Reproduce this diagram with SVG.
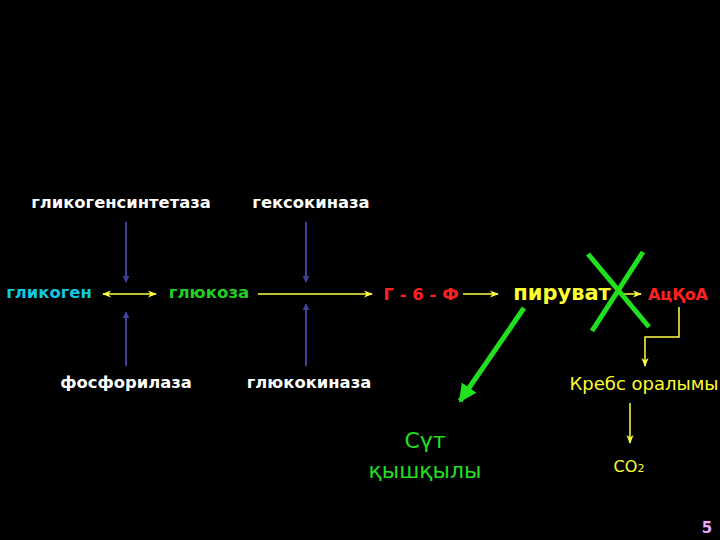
<svg xmlns="http://www.w3.org/2000/svg" width="720" height="540" viewBox="0 0 720 540">
<defs>
<style>
text{font-family:"DejaVu Sans","Liberation Sans",sans-serif;font-weight:bold}
.w{fill:#ffffff;font-size:16.4px}
.blue{stroke:#40409a;stroke-width:2;fill:none}
.yel{stroke:#ffff40;stroke-width:1.5;fill:none}
.grn{stroke:#20e020;stroke-width:5;fill:none;stroke-linecap:butt}
</style>
<marker id="ab" viewBox="0 0 10 10" refX="9" refY="5" markerWidth="7" markerHeight="7" orient="auto-start-reverse" markerUnits="userSpaceOnUse"><path d="M0,0 L10,5 L0,10 Z" fill="#40409a"/></marker>
<marker id="ay" viewBox="0 0 10 10" refX="9" refY="5" markerWidth="9" markerHeight="9" orient="auto-start-reverse" markerUnits="userSpaceOnUse"><path d="M0,1 L10,5 L0,9 L3,5 Z" fill="#ffff40"/></marker>
<marker id="ag" viewBox="0 0 10 10" refX="9" refY="5" markerWidth="18" markerHeight="18" orient="auto" markerUnits="userSpaceOnUse"><path d="M0,0 L10,5 L0,10 Z" fill="#20e020"/></marker>
</defs>
<rect width="720" height="540" fill="#000"/>
<g id="connectors">
<line class="blue" x1="126" y1="222" x2="126" y2="282" marker-end="url(#ab)"/>
<line class="blue" x1="126" y1="366" x2="126" y2="312" marker-end="url(#ab)"/>
<line class="blue" x1="306" y1="222" x2="306" y2="282" marker-end="url(#ab)"/>
<line class="blue" x1="306" y1="366" x2="306" y2="304" marker-end="url(#ab)"/>
<line class="yel" x1="103" y1="294" x2="156" y2="294" marker-start="url(#ay)" marker-end="url(#ay)"/>
<line class="yel" x1="258" y1="294" x2="372" y2="294" marker-end="url(#ay)"/>
<line class="yel" x1="463" y1="294" x2="498" y2="294" marker-end="url(#ay)"/>
<line class="yel" x1="618" y1="294" x2="641" y2="294" stroke-width="3" marker-end="url(#ay)"/>
<polyline class="yel" points="679,307 679,337 645,337 645,366" stroke-width="2" marker-end="url(#ay)"/>
<line class="yel" x1="630" y1="403" x2="630" y2="443" marker-end="url(#ay)"/>
<line class="grn" x1="524" y1="308" x2="460" y2="401" marker-end="url(#ag)"/>
<line class="grn" x1="588" y1="254" x2="649" y2="327"/>
<line class="grn" x1="643" y1="252" x2="592" y2="331"/>
</g>
<g id="n-glycogensynthetase"><text class="w" x="121" y="208" text-anchor="middle">гликогенсинтетаза</text></g>
<g id="n-hexokinase"><text class="w" x="311" y="208" text-anchor="middle">гексокиназа</text></g>
<g id="n-phosphorylase"><text class="w" x="126" y="388" text-anchor="middle">фосфорилаза</text></g>
<g id="n-glucokinase"><text class="w" x="309" y="388" text-anchor="middle">глюкокиназа</text></g>
<g id="n-glycogen"><text x="49" y="298" text-anchor="middle" font-size="16.4" fill="#10c8e0">гликоген</text></g>
<g id="n-glucose"><text x="209" y="298" text-anchor="middle" font-size="16.6" fill="#20d020">глюкоза</text></g>
<g id="n-g6p"><text x="421" y="300" text-anchor="middle" font-size="16.5" fill="#ff2020">Г - 6 - Ф</text></g>
<g id="n-pyruvate"><text x="562" y="300" text-anchor="middle" font-size="21" fill="#ffff30">пируват</text></g>
<g id="n-acoa"><text x="678" y="300" text-anchor="middle" font-size="16" fill="#ff2020">АцҚоА</text></g>
<g id="n-krebs"><text x="644" y="390" text-anchor="middle" font-size="18" fill="#ffff30" style="font-weight:normal">Кребс оралымы</text></g>
<g id="n-co2"><text x="629" y="472" text-anchor="middle" font-size="16" fill="#ffff30" style="font-weight:normal">CO<tspan font-size="11">2</tspan></text></g>
<g id="n-lactic"><text x="425" y="448" text-anchor="middle" font-size="22" fill="#20e020" style="font-weight:normal">Сүт</text><text x="425" y="478" text-anchor="middle" font-size="22" fill="#20e020" style="font-weight:normal">қышқылы</text></g>
<g id="page"><text x="707" y="533" text-anchor="middle" font-size="15" fill="#e8a8ff">5</text></g>
</svg>
